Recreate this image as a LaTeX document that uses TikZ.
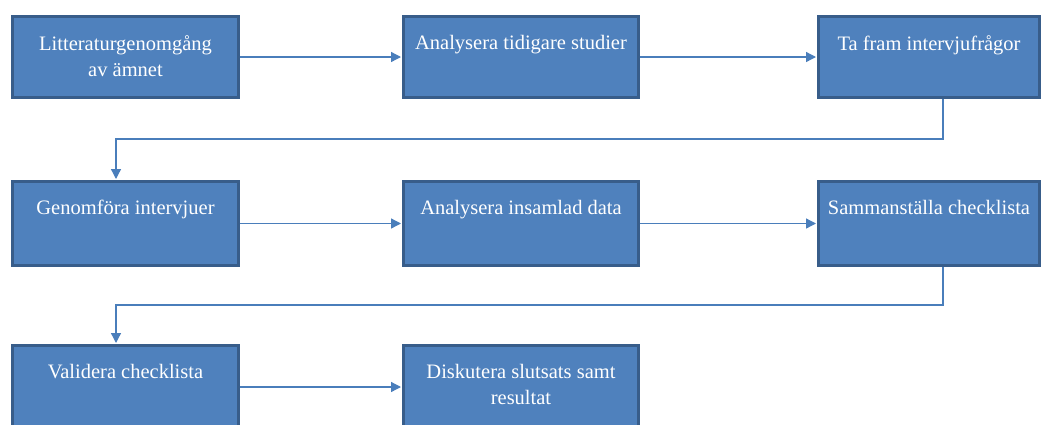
\documentclass[tikz,border=0pt]{standalone}
\usepackage{fontspec}
\setmainfont{Liberation Serif}
\usepackage{tikz}
\usetikzlibrary{arrows.meta}

\definecolor{rutfarg}{HTML}{4F81BD}
\definecolor{kantfarg}{HTML}{385D8A}
\definecolor{pilfarg}{HTML}{4A7EBB}

% text sits at the top of each box
\newcommand{\rut}[3]{\parbox[c][#2][t]{#1}{\vspace*{19pt}\centering #3}}

\begin{document}
\begin{tikzpicture}[x=1pt,y=-1pt,>={Triangle[length=10pt,width=10pt,fill=pilfarg]},
    steg/.style={draw=kantfarg,fill=rutfarg,line width=3pt,inner sep=0pt,
      text=white,font=\fontsize{20.5}{26}\selectfont},
    flode/.style={->,draw=pilfarg,line width=1.3pt,shorten >=1pt}]
    \path[use as bounding box,clip] (0,0) rectangle (1041,424);
    % row 1
    \node[steg] (lit) at (125.5,57) {\rut{226pt}{81pt}{Litteraturgenomgång\\av ämnet}};
    \node[steg] (tidigare) at (521,57) {\rut{235pt}{81pt}{Analysera tidigare studier}};
    \node[steg] (tafram) at (929,57) {\rut{221pt}{81pt}{Ta fram intervjufrågor}};
    % row 2
    \node[steg] (genomfora) at (125.5,223.5) {\rut{226pt}{84pt}{Genomföra intervjuer}};
    \node[steg] (insamlad) at (521,223.5) {\rut{235pt}{84pt}{Analysera insamlad data}};
    \node[steg] (sammanstalla) at (929,223.5) {\rut{221pt}{84pt}{Sammanställa checklista}};
    % row 3
    \node[steg] (validera) at (125.5,387) {\rut{226pt}{83pt}{Validera checklista}};
    \node[steg] (diskutera) at (521,387) {\rut{235pt}{83pt}{Diskutera slutsats samt\\resultat}};
    % bends
    \coordinate (v1) at (943,139);
    \coordinate (h1) at (116,139);
    \coordinate (v2) at (943,305);
    \coordinate (h2) at (116,305);
    \draw[flode] (lit.east) -- (tidigare.west);
    \draw[flode] (tidigare.east) -- (tafram.west);
    \draw[flode] (tafram.south -| v1) -- (v1) -- (h1) -- (genomfora.north -| h1);
    \draw[flode] (genomfora.east) -- (insamlad.west);
    \draw[flode] (insamlad.east) -- (sammanstalla.west);
    \draw[flode] (sammanstalla.south -| v2) -- (v2) -- (h2) -- (validera.north -| h2);
    \draw[flode] (validera.east) -- (diskutera.west);
\end{tikzpicture}
\end{document}
